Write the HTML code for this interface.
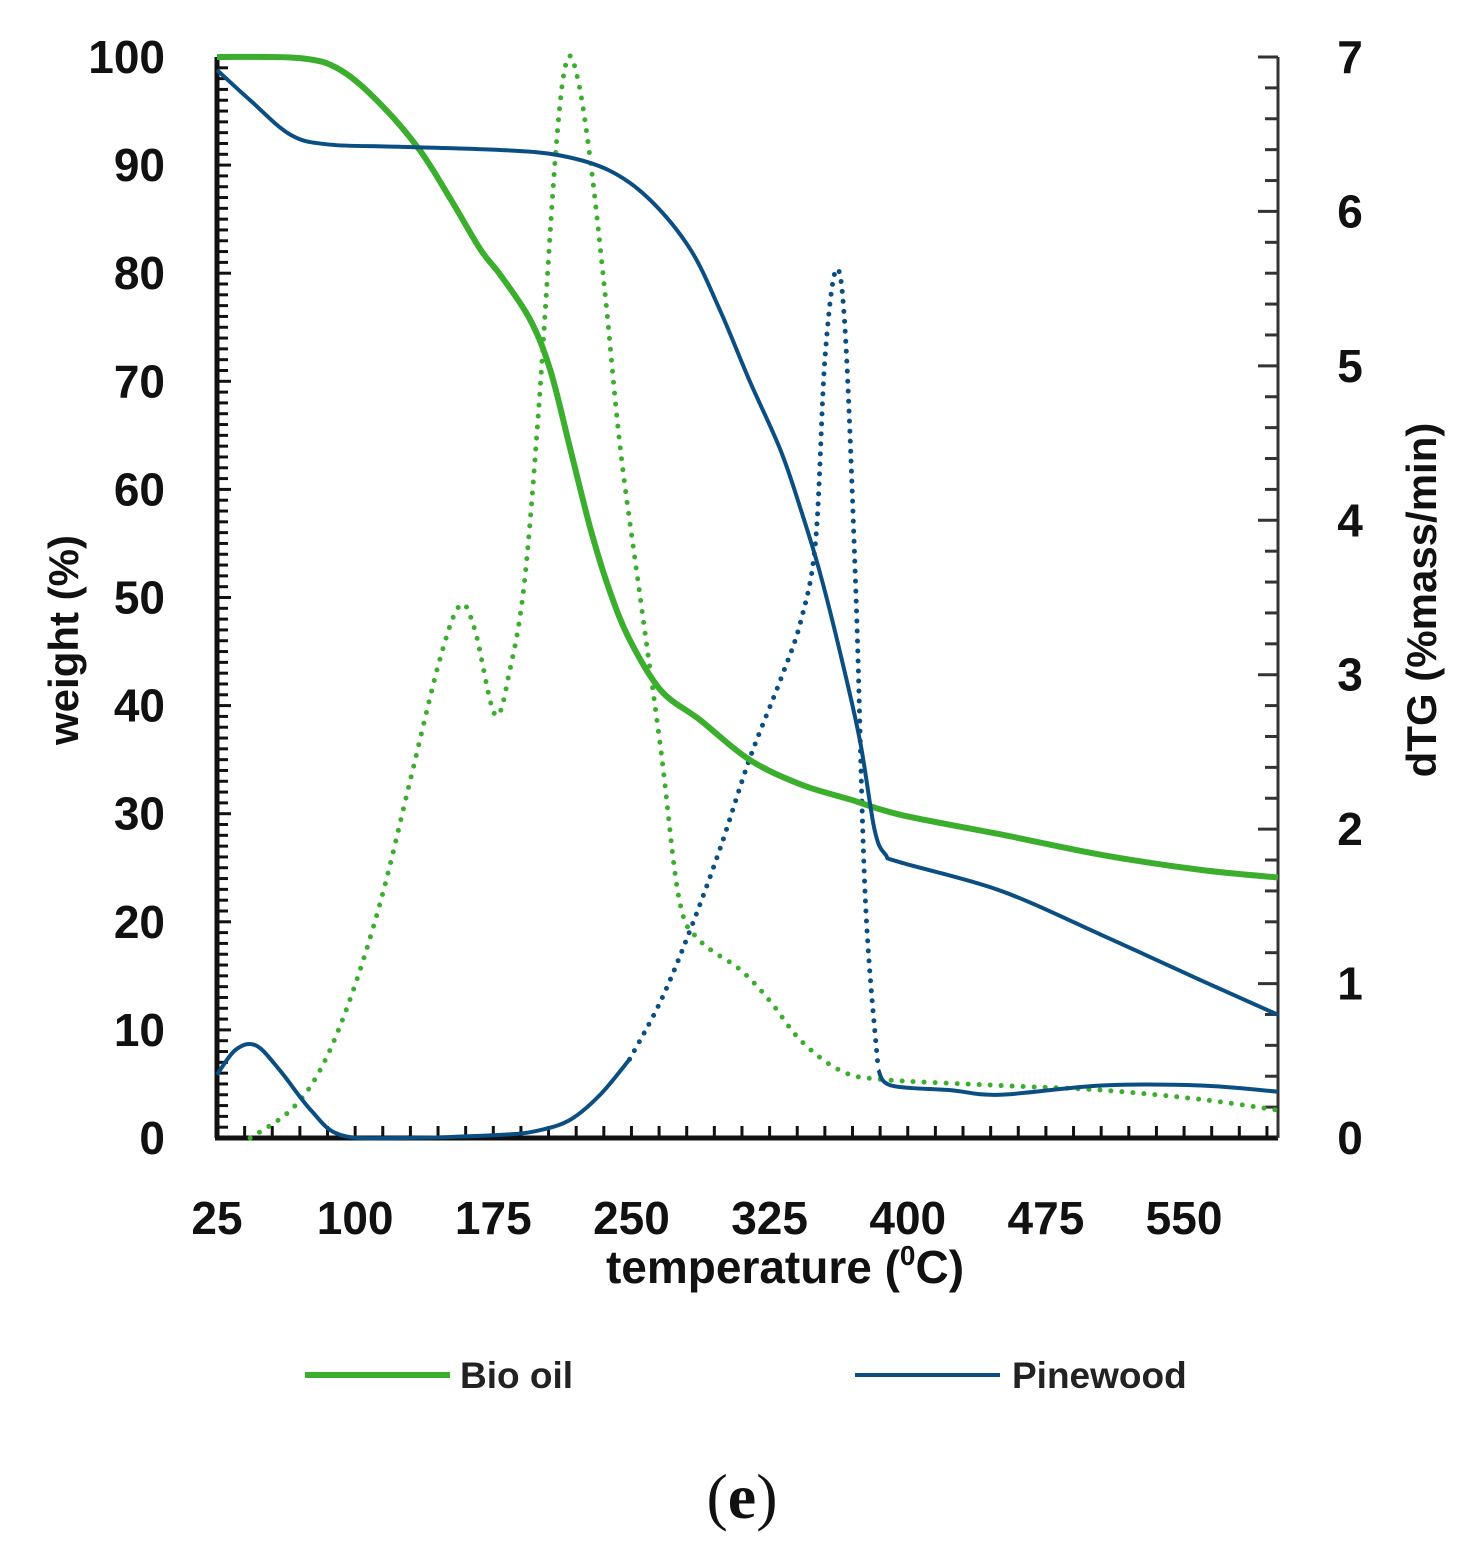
<!DOCTYPE html>
<html><head><meta charset="utf-8">
<style>
html,body{margin:0;padding:0;background:#fff;}
svg{display:block;font-family:"Liberation Sans",sans-serif;}
</style></head>
<body>
<svg id="chart" width="1477" height="1559" viewBox="0 0 1477 1559" xmlns="http://www.w3.org/2000/svg">
<g id="axes"></g>
<g id="series"></g>
<text x="785" y="1283" font-size="46" font-weight="bold" text-anchor="middle" fill="#111">temperature (<tspan font-size="28" dy="-18">0</tspan><tspan dy="18">C)</tspan></text>
<text transform="translate(78,640) rotate(-90)" font-size="42" font-weight="bold" text-anchor="middle" fill="#111">weight (%)</text>
<text transform="translate(1436,600) rotate(-90)" font-size="42" font-weight="bold" text-anchor="middle" fill="#111">dTG (%mass/min)</text>
<g>
<g>
<line x1="305" y1="1375" x2="450" y2="1375" stroke="#3cae2d" stroke-width="6"/>
<text x="460" y="1388" font-size="37" font-weight="bold" fill="#222">Bio oil</text></g>
<g>
<line x1="855" y1="1375" x2="1000" y2="1375" stroke="#0b4f82" stroke-width="4"/>
<text x="1012" y="1388" font-size="37" font-weight="bold" fill="#222">Pinewood</text></g>
</g>
<text x="742" y="1518" font-family="Liberation Serif, serif" font-size="64" text-anchor="middle" fill="#111">(<tspan font-weight="bold">e</tspan>)</text>
</svg>
<script>
const xTicks=[25,100,175,250,325,400,475,550];
const yTicks=[0,10,20,30,40,50,60,70,80,90,100];
const y2Ticks=[0,1,2,3,4,5,6,7];
const bioTGt=[25,70,92,114,135,152,168,179,195,206,217,228,238,249,266,287,314,342,369,396,450,505,559,601];
const bioTGw=[100,99.9,98.8,95.6,91.4,86.8,82.2,79.8,75.7,71,63.6,56.2,50.7,46.1,41.4,38.7,35,32.7,31.3,29.9,28.1,26.2,24.8,24.1];
const pineTGt=[25,43,65,86,124,179,211,238,260,282,298,314,331,342,352,363,374,382,388,396,450,505,559,601];
const pineTGw=[98.8,96,92.8,91.9,91.7,91.4,90.9,89.5,86.8,82.2,76.6,70.1,63.6,58.1,52.5,45.1,36.8,28.5,26.2,25.5,22.9,18.8,14.6,11.4];
const bioDTGt=[43,65,81,97,114,130,146,157,165,176,184,192,200,209,215,221,228,236,244,255,266,276,287,309,325,342,363,385,450,505,559,601];
const bioDTGd=[0,0.18,0.44,0.89,1.54,2.32,3.10,3.45,3.29,2.74,3.03,3.61,4.78,6.40,6.98,6.85,6.3,5.43,4.46,3.48,2.51,1.54,1.28,1.09,0.89,0.63,0.44,0.38,0.34,0.31,0.25,0.18];
const pineDTGt=[25,35,46,59,76,92,124,179,200,217,233,249,266,282,298,314,331,342,350,355,361,366,372,377,384,391,423,450,505,559,601];
const pineDTGd=[0.41,0.57,0.60,0.44,0.18,0.02,0,0.02,0.05,0.12,0.28,0.51,0.89,1.35,1.87,2.45,2.97,3.35,3.87,5.04,5.62,5.23,3.48,1.54,0.44,0.34,0.31,0.28,0.34,0.34,0.30];

const NS="http://www.w3.org/2000/svg";
const X0=217,X1=1278,Y0=1138,Y1=57;
const xs=t=>X0+(t-25)*(X1-X0)/(601-25);
const ys=w=>Y0-w*(Y0-Y1)/100;
const ys2=d=>Y0-d*(Y0-Y1)/7;
function mk(tag,attrs,parent){const e=document.createElementNS(NS,tag);for(const k in attrs)e.setAttribute(k,attrs[k]);parent.appendChild(e);return e;}
const axes=document.getElementById('axes');
const ser=document.getElementById('series');

let a=mk('line',{x1:X0,y1:Y1,x2:X0,y2:Y0,stroke:'#111','stroke-width':5},axes);


a=mk('line',{x1:X0-2,y1:Y0,x2:X1,y2:Y0,stroke:'#111','stroke-width':5},axes);


a=mk('line',{x1:X1,y1:Y1,x2:X1,y2:Y0,stroke:'#333','stroke-width':3},axes);


mk('line',{x1:X1-20,y1:Y1,x2:X1,y2:Y1,stroke:'#333','stroke-width':3},axes);
for(let w=1;w<100;w++){const y=ys(w);mk('line',{x1:X0,y1:y,x2:X0+(w%10==0?14:11),y2:y,stroke:'#111','stroke-width':3},axes);}
for(let d=1;d<35;d++){const y=ys2(d/5);mk('line',{x1:X1,y1:y,x2:X1-(d%5==0?20:13),y2:y,stroke:'#333','stroke-width':3},axes);}
for(let t=40;t<601;t+=15){const x=xs(t);mk('line',{x1:x,y1:Y0,x2:x,y2:Y0-12,stroke:'#111','stroke-width':3},axes);}
yTicks.forEach(v=>{const e=mk('text',{x:165,y:ys(v)+16,'font-size':46,'font-weight':'bold','text-anchor':'end',fill:'#111'},axes);e.textContent=v;

});
y2Ticks.forEach(v=>{const e=mk('text',{x:1350,y:ys2(v)+16,'font-size':46,'font-weight':'bold','text-anchor':'middle',fill:'#111'},axes);e.textContent=v;

});
xTicks.forEach(v=>{const e=mk('text',{x:xs(v),y:1234,'font-size':46,'font-weight':'bold','text-anchor':'middle',fill:'#111'},axes);e.textContent=v;

});

function pathD(P){let d='M'+P[0][0]+','+P[0][1];for(let i=0;i<P.length-1;i++){const p0=P[Math.max(0,i-1)],p1=P[i],p2=P[i+1],p3=P[Math.min(P.length-1,i+2)];
const c1=[p1[0]+(p2[0]-p0[0])/6,p1[1]+(p2[1]-p0[1])/6],c2=[p2[0]-(p3[0]-p1[0])/6,p2[1]-(p3[1]-p1[1])/6];
d+=' C'+c1[0]+','+c1[1]+' '+c2[0]+','+c2[1]+' '+p2[0]+','+p2[1];}return d;}
function pts(T,V,f){return T.map((t,i)=>[xs(t),f(V[i])]);}

let p=mk('path',{d:pathD(pts(bioDTGt,bioDTGd,ys2)),fill:'none',stroke:'#3cae2d','stroke-width':5,'stroke-dasharray':'0 11','stroke-linecap':'round'},ser);


const pd=pts(pineDTGt,pineDTGd,ys2);
const i1=pineDTGt.findIndex(t=>t>=249), i2=pineDTGt.findIndex(t=>t>=384);
p=mk('path',{d:pathD(pd.slice(0,i1+1)),fill:'none',stroke:'#0b4f82','stroke-width':4},ser);


p=mk('path',{d:pathD(pd.slice(i1,i2+1)),fill:'none',stroke:'#0b4f82','stroke-width':5,'stroke-dasharray':'0 10','stroke-linecap':'round'},ser);


p=mk('path',{d:pathD(pd.slice(i2)),fill:'none',stroke:'#0b4f82','stroke-width':4},ser);


p=mk('path',{d:pathD(pts(bioTGt,bioTGw,ys)),fill:'none',stroke:'#3cae2d','stroke-width':6},ser);


p=mk('path',{d:pathD(pts(pineTGt,pineTGw,ys)),fill:'none',stroke:'#0b4f82','stroke-width':4},ser);


</script>
</body></html>
